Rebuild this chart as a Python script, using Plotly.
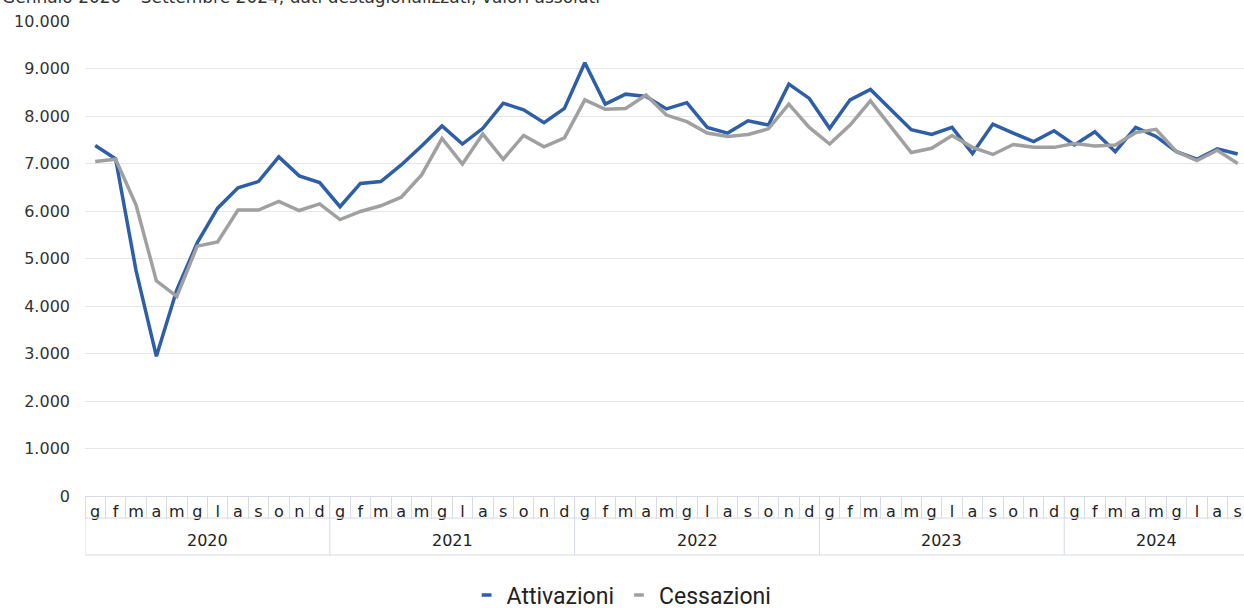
import plotly.graph_objects as go

years = ["2020", "2021", "2022", "2023", "2024"]
months = ["g", "f", "m", "a", "m", "g", "l", "a", "s", "o", "n", "d"]
months_per_year = [12, 12, 12, 12, 9]

attivazioni = [
    7380, 7100, 4750, 2940, 4340, 5330, 6060, 6490, 6620, 7140, 6740, 6600,
    6090, 6580, 6620, 6970, 7370, 7790, 7410, 7740, 8270, 8130, 7860, 8160,
    9120, 8250, 8460, 8410, 8150, 8280, 7760, 7640, 7900, 7810, 8670, 8370,
    7740, 8340, 8560, 8130, 7710, 7610, 7760, 7210, 7830, 7640, 7460, 7690,
    7390, 7670, 7250, 7760, 7570, 7250, 7090, 7310, 7200,
]
cessazioni = [
    7040, 7090, 6130, 4530, 4200, 5260, 5350, 6020, 6020, 6200, 6010, 6150,
    5820, 5990, 6110, 6290, 6760, 7530, 6990, 7620, 7090, 7590, 7350, 7540,
    8340, 8140, 8160, 8440, 8020, 7880, 7640, 7570, 7610, 7730, 8250, 7760,
    7410, 7810, 8320, 7770, 7230, 7320, 7590, 7340, 7190, 7400, 7340, 7340,
    7420, 7370, 7390, 7650, 7720, 7250, 7060, 7280, 7000,
]

# x positions = month index; tick text = month initials
month_labels = []
year_start = []
for yr, n in zip(years, months_per_year):
    year_start.append(len(month_labels))
    month_labels.extend(months[:n])
xidx = list(range(len(month_labels)))

BLUE = "#2e5fa6"
GRAY = "#a0a0a0"
AXC = "#d6dbe5"

fig = go.Figure()
fig.add_trace(go.Scatter(x=xidx, y=attivazioni, mode="lines",
                         line=dict(color=BLUE, width=3.5), showlegend=False,
                         name="Attivazioni"))
fig.add_trace(go.Scatter(x=xidx, y=cessazioni, mode="lines",
                         line=dict(color=GRAY, width=3.5), showlegend=False,
                         name="Cessazioni"))
# legend entries (short dash symbols)
for name, col in [("Attivazioni", BLUE), ("Cessazioni", GRAY)]:
    fig.add_trace(go.Scatter(x=[None], y=[None], mode="markers",
                             marker=dict(symbol="line-ew", size=7,
                                         line=dict(color=col, width=3.5)),
                             name=name, showlegend=True))

W, H = 1244, 608
ml, mt, mb = 85, 21, 112
plot_h = H - mt - mb
y_mid_line = -(518 - (H - mb)) / plot_h
y_bottom_line = -(555 - (H - mb)) / plot_h
y_year_text = -(540 - (H - mb)) / plot_h

fig.update_layout(
    width=W, height=H,
    margin=dict(l=ml, r=0, t=mt, b=mb, pad=0, autoexpand=False),
    paper_bgcolor="white", plot_bgcolor="white",
    separators=",.",
    font=dict(family="DejaVu Sans", size=16, color="#333333"),
    legend=dict(orientation="h", xref="paper", x=0.463, xanchor="center",
                yref="paper", y=-(595 - (H - mb)) / plot_h, yanchor="middle",
                font=dict(family="Roboto", size=23, color="#222222"),
                itemwidth=30, traceorder="normal"),
    showlegend=True,
)
fig.update_yaxes(range=[0, 10000], dtick=1000, tickformat=",.0f",
                 showgrid=True, gridcolor="#e6e6e6", gridwidth=1,
                 zeroline=False, showline=False, ticks="",
                 ticklabelstandoff=14, automargin=False,
                 tickfont=dict(family="DejaVu Sans", size=16, color="#333333"))
fig.update_xaxes(range=[-0.5, len(xidx) - 0.69],
                 tickmode="array", tickvals=xidx, ticktext=month_labels,
                 showgrid=False, zeroline=False,
                 showline=True, linecolor=AXC, linewidth=1,
                 ticks="", tickangle=0, ticklabelstandoff=1,
                 minor=dict(ticks="outside", ticklen=22, tickcolor=AXC, tickwidth=1,
                            tick0=0.5, dtick=1, showgrid=False),
                 automargin=False,
                 tickfont=dict(family="DejaVu Sans", size=16, color="#222222"))

# horizontal rules of the category table
for yp in [y_mid_line, y_bottom_line]:
    fig.add_shape(type="line", xref="paper", yref="paper", x0=0, x1=1.01,
                  y0=yp, y1=yp, line=dict(color=AXC, width=1))

# year dividers and year labels
for yr, s, n in zip(years, year_start, months_per_year):
    fig.add_shape(type="line", xref="x", yref="paper", x0=s - 0.5, x1=s - 0.5,
                  y0=0, y1=y_bottom_line, line=dict(color=AXC, width=1))
    fig.add_annotation(text=yr, xref="x", yref="paper", x=s + (n - 1) / 2,
                       y=y_year_text, xanchor="center", yanchor="middle",
                       showarrow=False,
                       font=dict(family="DejaVu Sans", size=16, color="#222222"))

fig.add_annotation(text="Gennaio 2020 – Settembre 2024, dati destagionalizzati, valori assoluti",
                   xref="paper", yref="paper", x=-ml / (W - ml), y=1 + (mt + 3) / plot_h,
                   xanchor="left", yanchor="middle", showarrow=False,
                   font=dict(family="DejaVu Sans", size=17, color="#333333"))

fig.write_html("out.html", config={"displayModeBar": False},
               post_script="document.body.style.margin='0px';document.body.style.overflow='hidden';")
